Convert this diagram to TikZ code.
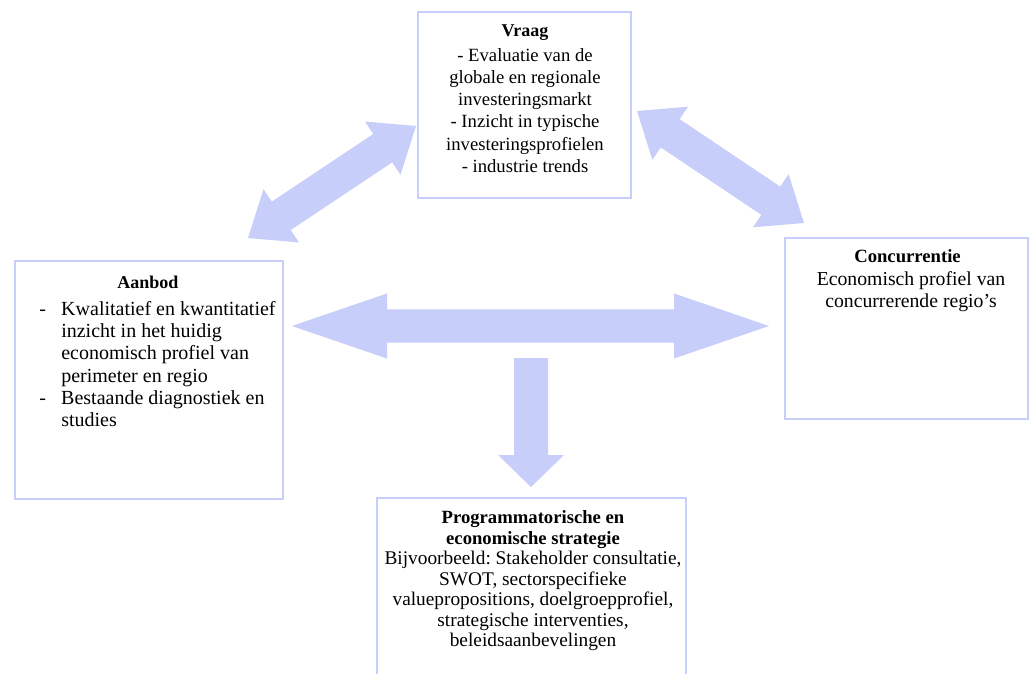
\documentclass[tikz,border=0pt]{standalone}
\usepackage{fontspec}
\setmainfont{Liberation Serif}
\usetikzlibrary{calc,fit}
\definecolor{lav}{RGB}{200,206,250}
\frenchspacing
\tikzset{
  box/.style={draw=lav, line width=1.5pt, inner sep=0pt, fill=white},
  blk/.style={fill=lav, draw=none},
  ttl/.style={inner sep=0pt, anchor=base, font=\bfseries\fontsize{13.5}{16}\selectfont},
  bodyc/.style={inner sep=0pt, anchor=north, align=center},
}
% double block arrow: #1 tip A, #2 tip B, #3 shaft half width, #4 head half width, #5 head length
\newcommand\DblArrowPoly[5]{%
  \fill[blk] (#1) -- ($(#1)!#5!(#2)!#4!90:(#2)$) -- ($(#1)!#5!(#2)!#3!90:(#2)$)
    -- ($(#2)!#5!(#1)!#3!-90:(#1)$) -- ($(#2)!#5!(#1)!#4!-90:(#1)$) -- (#2)
    -- ($(#2)!#5!(#1)!#4!90:(#1)$) -- ($(#2)!#5!(#1)!#3!90:(#1)$)
    -- ($(#1)!#5!(#2)!#3!-90:(#2)$) -- ($(#1)!#5!(#2)!#4!-90:(#2)$) -- cycle;}
% single block arrow: #1 tail, #2 tip, #3 shaft half width, #4 head half width, #5 head length
\newcommand\SglArrowPoly[5]{%
  \fill[blk] ($(#1)!#3!90:(#2)$) -- ($(#2)!#5!(#1)!#3!-90:(#1)$) -- ($(#2)!#5!(#1)!#4!-90:(#1)$)
    -- (#2) -- ($(#2)!#5!(#1)!#4!90:(#1)$) -- ($(#2)!#5!(#1)!#3!90:(#1)$)
    -- ($(#1)!#3!-90:(#2)$) -- cycle;}
\begin{document}
\begin{tikzpicture}[x=0.75pt,y=-0.75pt]
\useasboundingbox (0,0) rectangle (1029,674);
\clip (0,0) rectangle (1029,674);
\fill[white] (0,0) rectangle (1029,674);

% boxes
\node[box, fit={(418,12) (631,198)}] (vraag) {};
\node[box, fit={(15,261) (283,499)}] (aanbod) {};
\node[box, fit={(785,238) (1028,419)}] (conc) {};
\node[box, fit={(377,498) (686,700)}] (prog) {};

% arrow end points
\coordinate (hL) at (292,326);
\coordinate (hR) at (769,326);
\coordinate (dA) at (416,126);
\coordinate (dB) at (248,238);
\coordinate (eA) at (637,111);
\coordinate (eB) at (804,223);
\coordinate (sS) at (531,358);
\coordinate (sT) at (531,487);

\DblArrowPoly{hL}{hR}{12.4pt}{24.4pt}{71.25pt}
\DblArrowPoly{dA}{dB}{12.75pt}{24pt}{30pt}
\DblArrowPoly{eA}{eB}{12.75pt}{24pt}{30pt}
\SglArrowPoly{sS}{sT}{12.75pt}{24.75pt}{24pt}

% texts
\node[ttl] (vraagT) at (525,37) {Vraag};
\node[bodyc, font=\fontsize{14}{16.65}\selectfont] (vraagB) at (525,45.5)
  {\strut- Evaluatie van de\\globale en regionale\\investeringsmarkt\\- Inzicht in typische\\investeringsprofielen\\- industrie trends};

\node[ttl] (aanbodT) at (148,288.3) {Aanbod};
\node[inner sep=0pt, anchor=north west, align=left, font=\fontsize{15}{16.7}\selectfont] (aanbodB) at (39,299.4)
  {\strut\makebox[16.5pt][l]{-}Kwalitatief en kwantitatief\\
   \hspace*{16.5pt}inzicht in het huidig\\
   \hspace*{16.5pt}economisch profiel van\\
   \hspace*{16.5pt}perimeter en regio\\
   \makebox[16.5pt][l]{-}Bestaande diagnostiek en\\
   \hspace*{16.5pt}studies};

\node[ttl, font=\bfseries\fontsize{14}{16}\selectfont] (concT) at (907.5,262) {Concurrentie};
\node[bodyc, font=\fontsize{14.8}{16.5}\selectfont] (concB) at (911,270)
  {\strut Economisch profiel van\\concurrerende regio’s};

\node[bodyc, font=\fontsize{14.5}{15.4}\selectfont] (progB) at (533,509)
  {\strut{\bfseries\fontsize{14}{15.4}\selectfont Programmatorische en}\\
   {\bfseries\fontsize{14}{15.4}\selectfont economische strategie}\\
   Bijvoorbeeld: Stakeholder consultatie,\\
   SWOT, sectorspecifieke\\
   valuepropositions, doelgroepprofiel,\\
   strategische interventies,\\
   beleidsaanbevelingen};
\end{tikzpicture}
\end{document}
